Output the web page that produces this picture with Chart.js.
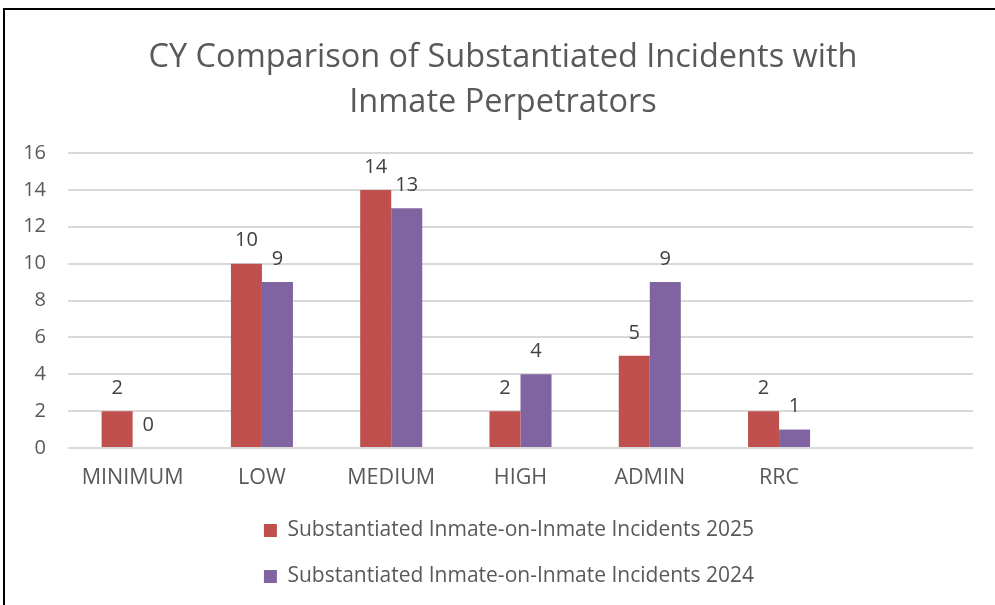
<!DOCTYPE html>
<html>
<head>
<meta charset="utf-8">
<script src="https://cdn.jsdelivr.net/npm/chart.js@4/dist/chart.umd.min.js"></script>
<style>
  html, body { margin: 0; padding: 0; background: #fff; overflow: hidden; }
  #wrap { position: absolute; left: 0; top: 0; width: 995px; height: 605px; }
  #frame { position: absolute; left: 3px; top: 8px; width: 1010px; height: 620px; border: 2px solid #000; pointer-events: none; }
</style>
</head>
<body>
<div id="wrap"><canvas id="c" width="995" height="605"></canvas></div>
<div id="frame"></div>
<script>
const categories = ['MINIMUM', 'LOW', 'MEDIUM', 'HIGH', 'ADMIN', 'RRC', ''];
const incidents2025 = [2, 10, 14, 2, 5, 2, null];
const incidents2024 = [0, 9, 13, 4, 9, 1, null];
const seriesNames = ['Substantiated Inmate-on-Inmate Incidents 2025', 'Substantiated Inmate-on-Inmate Incidents 2024'];
const yTicks = [0, 2, 4, 6, 8, 10, 12, 14, 16];
const titleLines = ['CY Comparison of Substantiated Incidents with', 'Inmate Perpetrators'];

const FONT = '"Open Sans", Lato, sans-serif';
const TEXT = '#595959';

const valueLabels = {
  id: 'valueLabels',
  afterDatasetsDraw(chart) {
    const ctx = chart.ctx;
    ctx.save();
    ctx.font = '20px ' + FONT;
    ctx.fillStyle = '#404040';
    ctx.textAlign = 'center';
    ctx.textBaseline = 'middle';
    chart.data.datasets.forEach((ds, di) => {
      const meta = chart.getDatasetMeta(di);
      meta.data.forEach((el, i) => {
        const v = ds.data[i];
        if (v === null || v === undefined) return;
        ctx.fillText(String(v), el.x, el.y - 23);
      });
    });
    ctx.restore();
  }
};

// nudge title and legend horizontally to match the original's centring
const nudgeBoxes = {
  id: 'nudgeBoxes',
  afterLayout(chart) {
    if (chart.titleBlock) { chart.titleBlock.left += 5; chart.titleBlock.right += 5; }
    if (chart.legend) { chart.legend.left += 11; chart.legend.right += 11; }
  }
};

new Chart(document.getElementById('c'), {
  type: 'bar',
  data: {
    labels: categories,
    datasets: [
      { label: seriesNames[0], data: incidents2025, backgroundColor: '#C0504D' },
      { label: seriesNames[1], data: incidents2024, backgroundColor: '#8064A2' }
    ]
  },
  options: {
    responsive: false,
    animation: false,
    devicePixelRatio: 1,
    layout: { padding: { left: 23, right: 22, top: 10, bottom: 8 } },
    datasets: { bar: { categoryPercentage: 0.48, barPercentage: 1 } },
    plugins: {
      title: {
        display: true,
        text: titleLines,
        color: TEXT,
        font: { family: FONT, size: 32.5, weight: 'normal', lineHeight: 1.385 },
        padding: { top: 25, bottom: 28 }
      },
      legend: {
        display: true,
        position: 'bottom',
        labels: {
          color: TEXT,
          font: { family: FONT, size: 21 },
          boxWidth: 13,
          boxHeight: 13,
          padding: 25
        }
      },
      tooltip: { enabled: false }
    },
    scales: {
      x: {
        grid: { display: false, drawTicks: false },
        border: { display: false },
        ticks: { color: TEXT, font: { family: FONT, size: 21.5 }, padding: 17, maxRotation: 0 },
        afterFit(axis) { axis.height = 47; }
      },
      y: {
        min: 0, max: 16,
        afterBuildTicks(axis) { axis.ticks = yTicks.map(v => ({ value: v })); },
        grid: { color: '#D9D9D9', lineWidth: 2, drawTicks: false },
        border: { display: false },
        ticks: { color: TEXT, font: { family: FONT, size: 20 }, padding: 22 },
        afterFit(axis) { axis.width = 45; }
      }
    }
  },
  plugins: [valueLabels, nudgeBoxes]
});
</script>
</body>
</html>
